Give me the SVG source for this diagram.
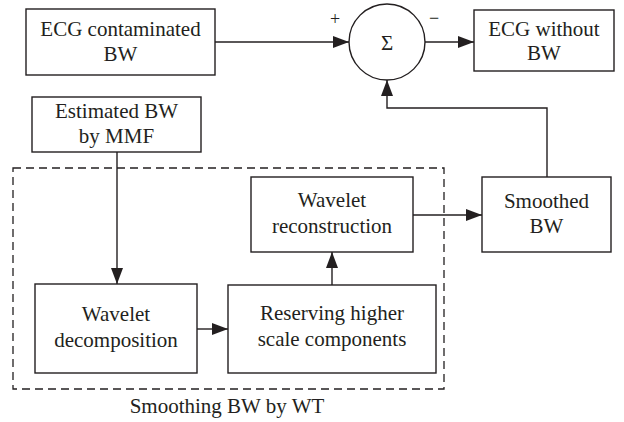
<svg xmlns="http://www.w3.org/2000/svg" width="624" height="422" viewBox="0 0 624 422">
<defs>
<marker id="ah" viewBox="0 0 16 12" refX="16" refY="6" markerWidth="16" markerHeight="12" markerUnits="userSpaceOnUse" orient="auto">
<path d="M0,0 L16,6 L0,12 Z" fill="#231f20"/>
</marker>
</defs>
<style>
.box{fill:#fff;stroke:#231f20;stroke-width:1.4}
.t{font-family:'Liberation Serif','Times New Roman','DejaVu Serif',serif;font-size:21px;fill:#231f20;text-anchor:middle}
.c{fill:none;stroke:#231f20;stroke-width:1.4}
.a{fill:none;stroke:#231f20;stroke-width:1.4;marker-end:url(#ah)}
.d{fill:none;stroke:#231f20;stroke-width:1.3;stroke-dasharray:8 5}
</style>
<rect width="624" height="422" fill="#fff"/>
<g id="smoothing-group">
<rect class="d" x="13" y="168" width="431" height="221"/>
<text class="t" x="227" y="413">Smoothing BW by WT</text>
</g>
<g id="connectors">
<line class="a" x1="215" y1="42" x2="349" y2="42"/>
<line class="a" x1="425" y1="42" x2="474" y2="42"/>
<polyline class="a" points="547,177 547,108 387,108 387,80"/>
<line class="a" x1="117" y1="152" x2="117" y2="284"/>
<line class="a" x1="197" y1="329" x2="228" y2="329"/>
<line class="a" x1="332" y1="285" x2="332" y2="252"/>
<line class="a" x1="413" y1="215" x2="482" y2="215"/>
</g>
<g id="ecg-contaminated">
<rect class="box" x="26" y="9" width="189" height="66"/>
<text class="t" x="120.5" y="36">ECG contaminated</text>
<text class="t" x="120.5" y="61">BW</text>
</g>
<g id="sum">
<circle class="c" cx="387" cy="42" r="38"/>
<text class="t" x="387" y="50">Σ</text>
<text class="t" x="335" y="25" style="font-size:18px">+</text>
<text class="t" x="434" y="24" style="font-size:18px">−</text>
</g>
<g id="ecg-without">
<rect class="box" x="474" y="10" width="140" height="61"/>
<text class="t" x="544" y="36">ECG without</text>
<text class="t" x="544" y="60">BW</text>
</g>
<g id="estimated">
<rect class="box" x="32" y="97" width="169" height="55"/>
<text class="t" x="116.5" y="118">Estimated BW</text>
<text class="t" x="116.5" y="143">by MMF</text>
</g>
<g id="reconstruction">
<rect class="box" x="251" y="177" width="162" height="75"/>
<text class="t" x="332" y="207">Wavelet</text>
<text class="t" x="332" y="233">reconstruction</text>
</g>
<g id="smoothed">
<rect class="box" x="482" y="177" width="129" height="75"/>
<text class="t" x="546.5" y="208">Smoothed</text>
<text class="t" x="546.5" y="233">BW</text>
</g>
<g id="decomposition">
<rect class="box" x="35" y="284" width="162" height="89"/>
<text class="t" x="116" y="321">Wavelet</text>
<text class="t" x="116" y="347">decomposition</text>
</g>
<g id="reserving">
<rect class="box" x="228" y="285" width="208" height="88"/>
<text class="t" x="332" y="320">Reserving higher</text>
<text class="t" x="332" y="346">scale components</text>
</g>
</svg>
